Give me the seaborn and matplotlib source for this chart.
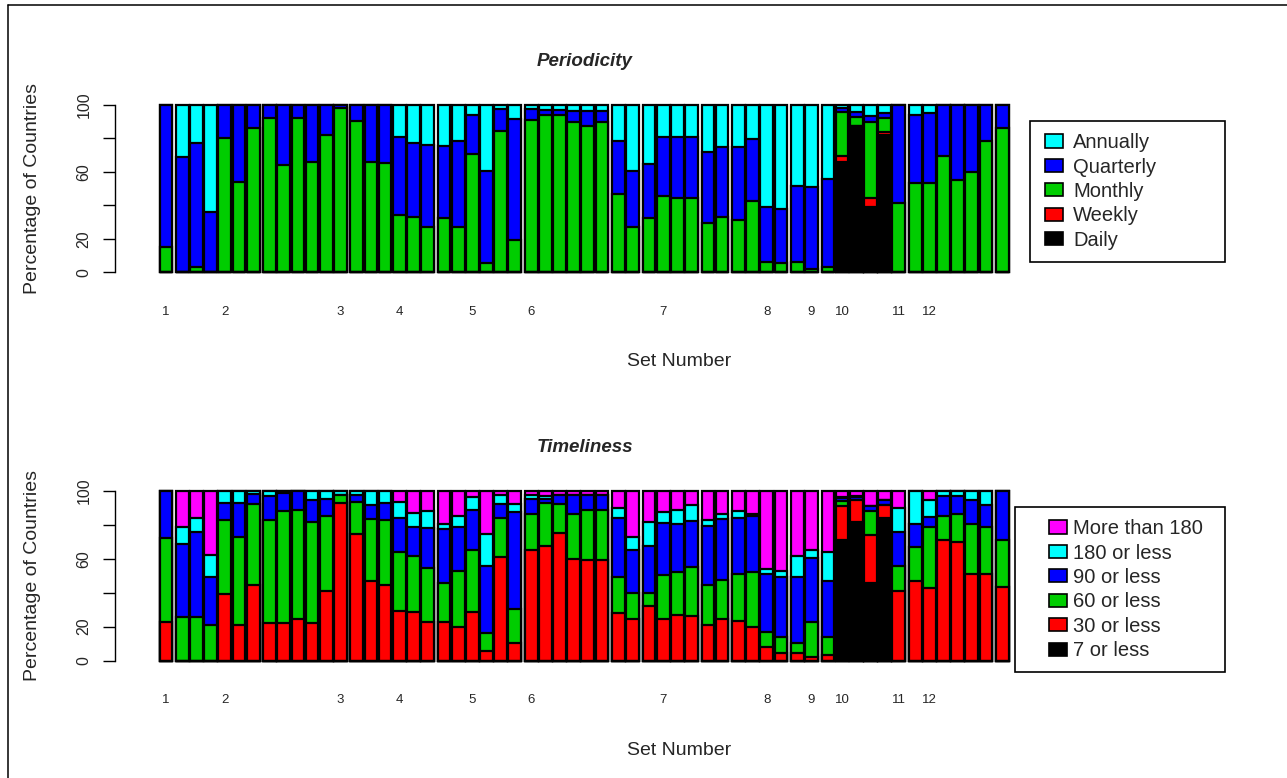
import numpy as np
import pandas as pd
import matplotlib
matplotlib.use('Agg')
import matplotlib.pyplot as plt
from matplotlib.patches import Patch, Rectangle
from matplotlib.lines import Line2D
from matplotlib.legend_handler import HandlerPatch
import seaborn as sns

# bars per set group (white gap between groups)
group_sizes = [1, 6, 6, 6, 6, 6, 2, 4, 2, 4, 2, 6, 6, 1]
set_labels = ['1', '2', '3', '4', '5', '6', '7', '8', '9', '10', '11', '12']
set_label_bar = [0, 4, 12, 16, 21, 25, 34, 41, 44, 46, 50, 52]

# Periodicity, % of countries (bottom -> top: Daily, Weekly, Monthly, Quarterly, Annually)
per_daily = [0] * 46 + [66, 87.5, 39, 82] + [0] * 8
per_weekly = [0] * 46 + [3.5, 0, 5.5, 1.5] + [0] * 8
per_monthly = [15,
               0, 3, 0, 80, 54, 86,
               92, 64, 92, 66, 82, 98,
               90, 66, 65, 34, 33, 27,
               32.5, 27, 70.5, 5.5, 84, 19.5,
               91, 93.5, 93.5, 89.5, 87.5, 89.5,
               47, 27,
               32.5, 45.5, 44.5, 44.5,
               29.5, 33,
               31.5, 42.5, 6.5, 5.5,
               6.5, 2,
               3, 26, 5, 45, 8.5, 41.5,
               53, 53, 69.5, 55, 60, 78,
               86]
per_quarterly = [85,
                 69, 74, 36, 20, 46, 14,
                 8, 36, 8, 34, 18, 2,
                 10, 34, 35, 46.5, 44, 49,
                 43, 51, 23, 55, 13.5, 72,
                 6.5, 3.5, 3.5, 6.5, 8.5, 6.5,
                 31, 33.5,
                 32, 35, 36, 36,
                 42.5, 41.5,
                 43.5, 37, 32.5, 32,
                 45, 49,
                 52.5, 2.5, 3, 3.5, 3, 58.5,
                 41, 42, 30.5, 45, 40, 22,
                 14]
per_annually = [0,
                31, 23, 64, 0, 0, 0,
                0, 0, 0, 0, 0, 0,
                0, 0, 0, 19.5, 23, 24,
                24.5, 22, 6.5, 39.5, 2.5, 8.5,
                2.5, 3, 3, 4, 4, 4,
                22, 39.5,
                35.5, 19.5, 19.5, 19.5,
                28, 25.5,
                25, 20.5, 61, 62.5,
                48.5, 49,
                44.5, 2, 4.5, 7, 5, 0,
                6, 5, 0, 0, 0, 0,
                0]

# Timeliness, % of countries (bottom -> top)
tim_7 = [0] * 46 + [71, 81.5, 46, 84] + [0] * 8
tim_30 = [23,
          0, 0, 0, 39, 21, 44.5,
          22, 22, 24.5, 22, 41, 93,
          74.5, 47, 44.5, 29.5, 28.5, 22.5,
          22.5, 20, 28.5, 5.5, 61, 10.5,
          65, 67.5, 75.5, 60, 59, 59,
          28, 24.5,
          32, 24.5, 27, 26,
          21, 24.5,
          23.5, 20, 8, 4.5,
          4.5, 2,
          3, 20, 13, 28, 7.5, 41,
          47, 42.5, 71, 70, 51, 51,
          43.5]
tim_60 = [49,
          25.5, 25.5, 21, 44, 52, 48,
          61, 66, 64, 59.5, 44, 4.5,
          19, 36.5, 38.5, 34.5, 33, 32,
          23.5, 33, 36.5, 11, 23, 20,
          21.5, 25.5, 17, 26.5, 29.5, 29.5,
          21.5, 15.5,
          8, 26, 25, 29,
          23.5, 23,
          27.5, 32, 9, 9.5,
          6, 20.5,
          11, 3, 0, 14, 0, 14.5,
          20, 36.5, 14, 16.5, 29.5, 28,
          27.5]
tim_90 = [28,
          43.5, 50.5, 28, 10, 20, 6,
          14, 11, 11.5, 13, 10.5, 0,
          4, 8.5, 10, 20, 17.5, 23.5,
          31.5, 25.5, 24, 39, 8.5, 57,
          8.5, 2, 5, 11, 9, 9,
          34.5, 25,
          27.5, 30.5, 28.5, 27.5,
          35, 36,
          33, 33, 34, 35.5,
          38.5, 38,
          33, 2, 2, 3, 3, 20.5,
          13.5, 5.5, 12, 10.5, 14, 13,
          29]
tim_180 = [0,
           10, 8, 13.5, 7, 7, 1.5,
           3, 1, 0, 5.5, 4.5, 2.5,
           2.5, 8, 7, 9.5, 8, 10,
           3, 7, 7.5, 19, 5, 5,
           2.5, 2, 0, 0, 0, 0,
           6, 8,
           14, 6.5, 8, 9,
           3.5, 3,
           4, 1.5, 3, 3.5,
           12.5, 4.5,
           17, 0.5, 0.5, 0, 0, 14,
           19.5, 10, 3, 3, 5.5, 8,
           0]
tim_more = [0,
            21, 16, 37.5, 0, 0, 0,
            0, 0, 0, 0, 0, 0,
            0, 0, 0, 6.5, 13, 12,
            19.5, 14.5, 3.5, 25.5, 2.5, 7.5,
            2.5, 3, 2.5, 2.5, 2.5, 2.5,
            10, 27,
            18.5, 12.5, 11.5, 8.5,
            17, 13.5,
            12, 13.5, 46, 47,
            38.5, 35,
            36, 3.5, 3, 9, 5.5, 10,
            0, 5.5, 0, 0, 0, 0,
            0]

per_names = ['Daily', 'Weekly', 'Monthly', 'Quarterly', 'Annually']
tim_names = ['7 or less', '30 or less', '60 or less', '90 or less', '180 or less', 'More than 180']
per_colors = ['#000000', '#FF0000', '#00CD00', '#0000FF', '#00FFFF']
tim_colors = ['#000000', '#FF0000', '#00CD00', '#0000FF', '#00FFFF', '#FF00FF']

sns.set_style('white')
plt.rcParams['font.family'] = ['Liberation Sans', 'DejaVu Sans']

W, H = 1287, 778
fig = plt.figure(figsize=(W / 100, H / 100), dpi=100)

gap = 0.16
group_id = np.repeat(np.arange(len(group_sizes)), group_sizes)
pos = np.arange(len(group_id)) + gap * group_id


def stacked(ax, layers, colors):
    cum = np.cumsum(np.array(layers, dtype=float), axis=0)
    # draw the highest cumulative layer first, lower layers over it
    for k in range(len(layers) - 1, -1, -1):
        df = pd.DataFrame({'pos': pos, 'value': cum[k]})
        sns.barplot(data=df, x='pos', y='value', native_scale=True, width=0.9,
                    color=colors[k], saturation=1, edgecolor='black',
                    linewidth=1.6, errorbar=None, ax=ax)


def style(ax, title):
    ax.set_xlim(-3.6, 62.8)
    ax.set_ylim(-4, 104)
    for s in ['top', 'right', 'bottom']:
        ax.spines[s].set_visible(False)
    ax.spines['left'].set_bounds(0, 100)
    ax.spines['left'].set_linewidth(1.0)
    ax.spines['left'].set_color('black')
    ax.set_yticks([0, 20, 40, 60, 80, 100])
    ax.set_yticklabels(['0', '20', '', '60', '', '100'], rotation=90, va='center', fontsize=11.5)
    ax.tick_params(axis='y', length=9, width=1.0, color='black', pad=8, left=True)
    ax.set_xticks(pos[set_label_bar])
    ax.set_xticklabels(set_labels, fontsize=9.5)
    ax.tick_params(axis='x', length=0, pad=19)
    ax.set_xlabel('Set Number', fontsize=14, va='center')
    ax.xaxis.set_label_coords(0.6, -0.456)
    ax.set_ylabel('Percentage of Countries', fontsize=14, va='center')
    ax.yaxis.set_label_coords(-0.0878, 0.5)
    ax.set_title(title, fontsize=13.5, fontweight='bold', style='italic', pad=23)
    ax.set_facecolor('none')


ax1 = fig.add_axes([115 / W, 1 - 279.2 / H, 940 / W, 181.4 / H])
stacked(ax1, [per_daily, per_weekly, per_monthly, per_quarterly, per_annually], per_colors)
style(ax1, 'Periodicity')

ax2 = fig.add_axes([115 / W, 1 - 667.3 / H, 940 / W, 183.1 / H])
stacked(ax2, [tim_7, tim_30, tim_60, tim_90, tim_180, tim_more], tim_colors)
style(ax2, 'Timeliness')


def box_handler(shift):
    # colour key drawn at the right end of the handle area
    def make(legend, orig_handle, xdescent, ydescent, width, height, fontsize):
        return Rectangle((-xdescent + shift, -ydescent), width - shift, height)
    return HandlerPatch(patch_func=make)


leg_kw = dict(loc='upper left', mode='expand', fontsize=14.5, frameon=True, fancybox=False,
              edgecolor='black', framealpha=1, borderpad=0.6, handleheight=0.62,
              labelspacing=0.27, borderaxespad=0)

h1 = [Patch(facecolor=c, edgecolor='black', linewidth=1.2) for c in per_colors[::-1]]
leg1 = fig.legend(h1, per_names[::-1], bbox_to_anchor=(1030 / W, 1 - 121 / H, 195 / W, 0),
                  handlelength=1.04, handletextpad=0.5, handler_map={Patch: box_handler(2.2)}, **leg_kw)
leg1.get_frame().set_linewidth(1.2)

h2 = [Patch(facecolor=c, edgecolor='black', linewidth=1.2) for c in tim_colors[::-1]]
leg2 = fig.legend(h2, tim_names[::-1], bbox_to_anchor=(1015 / W, 1 - 507 / H, 210 / W, 0),
                  handlelength=1.99, handletextpad=0.3, handler_map={Patch: box_handler(15.8)}, **leg_kw)
leg2.get_frame().set_linewidth(1.2)

# page frame
fig.add_artist(Line2D([8 / W, 8 / W], [0, 1 - 5 / H], color='black', lw=1.1))
fig.add_artist(Line2D([8 / W, 1], [1 - 5 / H, 1 - 5 / H], color='black', lw=1.1))

fig.savefig('out.png', dpi=100)
